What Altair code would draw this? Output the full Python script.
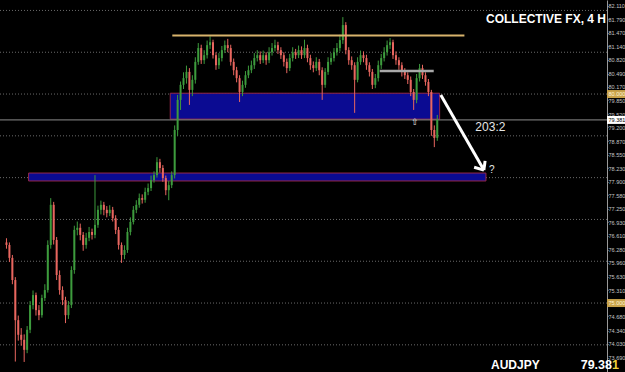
import altair as alt
import pandas as pd

# ---- candle data (AUDJPY, 4H) ----
closes = [76.39, 76.08, 75.55, 74.59, 74.24, 74.12, 73.88, 74.36, 74.95, 75.19,
          74.83, 74.71, 75.12, 75.31, 76.39, 77.35, 76.51, 75.67, 75.31, 75.07,
          74.71, 74.95, 75.79, 76.75, 76.80, 76.63, 76.39, 76.56, 76.70, 76.63,
          76.87, 77.23, 77.35, 77.23, 77.15, 77.23, 77.03, 76.75, 76.39, 76.15,
          76.27, 76.70, 76.94, 77.23, 77.35, 77.51, 77.47, 77.66, 77.75, 77.94,
          78.06, 78.37, 78.23, 77.99, 77.70, 77.82, 78.06, 79.14, 79.86, 80.22,
          80.38, 80.53, 80.10, 80.34, 80.77, 81.10, 80.81, 80.93, 81.17, 81.24,
          80.93, 80.69, 80.86, 81.05, 81.17, 81.10, 80.77, 80.57, 80.38, 80.05,
          80.22, 80.45, 80.57, 80.69, 80.86, 80.93, 80.81, 80.93, 80.81, 81.00,
          81.10, 81.17, 81.05, 80.93, 80.77, 80.62, 80.86, 81.00, 80.93, 81.05,
          80.93, 81.10, 80.86, 80.69, 80.62, 80.77, 80.57, 80.22, 80.53, 80.77,
          80.86, 81.00, 81.10, 81.29, 81.65, 81.05, 80.81, 80.69, 80.34, 80.77,
          80.93, 80.86, 80.69, 80.53, 80.22, 80.38, 80.69, 80.86, 81.00, 81.17,
          81.24, 80.93, 80.81, 80.69, 80.53, 80.45, 80.34, 80.05, 79.86, 80.38,
          80.62, 80.45, 80.29, 80.05, 79.14, 78.95, 79.381]
highs = [76.55, 76.45, 76.15, 75.62, 74.70, 74.40, 74.25, 74.45, 75.05, 75.30,
         75.25, 74.95, 75.20, 75.45, 76.50, 77.51, 77.42, 76.58, 75.78, 75.40,
         75.15, 75.05, 75.88, 76.85, 76.95, 76.90, 76.70, 76.68, 76.82, 76.78,
         78.06, 77.33, 77.45, 77.42, 77.32, 77.34, 77.30, 77.10, 76.82, 76.45,
         76.38, 76.80, 77.05, 77.32, 77.46, 77.62, 77.60, 77.76, 77.86, 78.05,
         78.15, 78.49, 78.45, 78.30, 78.05, 77.92, 78.15, 79.25, 79.98, 80.30,
         80.52, 80.68, 80.62, 80.45, 80.88, 81.22, 81.18, 81.05, 81.28, 81.38,
         81.30, 81.00, 80.98, 81.15, 81.28, 81.32, 81.18, 80.85, 80.65, 80.45,
         80.32, 80.55, 80.68, 80.80, 80.98, 81.05, 81.02, 81.04, 81.00, 81.12,
         81.22, 81.30, 81.25, 81.12, 81.00, 80.85, 80.96, 81.12, 81.08, 81.16,
         81.14, 81.30, 81.18, 80.94, 80.78, 80.88, 80.84, 80.64, 80.62, 80.88,
         80.98, 81.10, 81.22, 81.42, 81.84, 81.72, 81.12, 80.90, 80.76, 80.88,
         81.04, 81.02, 80.94, 80.76, 80.60, 80.48, 80.80, 80.96, 81.12, 81.28,
         81.34, 81.30, 81.02, 80.88, 80.76, 80.62, 80.52, 80.42, 80.12, 80.48,
         80.72, 80.70, 80.52, 80.36, 80.10, 79.25, 79.50]
lows = [76.30, 75.98, 75.45, 73.60, 74.10, 73.98, 73.59, 73.80, 74.28, 74.85,
        74.70, 74.59, 74.65, 75.05, 75.25, 76.30, 76.40, 75.55, 75.20, 74.95,
        74.52, 74.62, 74.88, 75.70, 76.62, 76.50, 76.25, 76.30, 76.48, 76.52,
        76.55, 76.80, 77.12, 77.10, 77.05, 77.08, 76.95, 76.65, 76.28, 75.96,
        76.05, 76.20, 76.62, 76.88, 77.15, 77.28, 77.38, 77.40, 77.58, 77.68,
        77.88, 78.00, 78.12, 77.90, 77.58, 77.46, 77.75, 77.98, 79.00, 79.62,
        80.12, 80.25, 79.74, 79.95, 80.25, 80.70, 80.72, 80.72, 80.85, 81.08,
        80.85, 80.58, 80.60, 80.78, 80.98, 81.00, 80.68, 80.45, 80.28, 79.81,
        79.95, 80.15, 80.38, 80.50, 80.60, 80.78, 80.72, 80.74, 80.70, 80.74,
        80.92, 81.02, 80.96, 80.84, 80.66, 80.50, 80.55, 80.78, 80.84, 80.86,
        80.84, 80.86, 80.76, 80.58, 80.52, 80.55, 80.45, 79.86, 80.15, 80.46,
        80.70, 80.78, 80.92, 81.02, 81.20, 80.95, 80.70, 80.58, 79.55, 80.28,
        80.70, 80.76, 80.58, 80.42, 80.12, 80.14, 80.30, 80.60, 80.78, 80.92,
        81.08, 80.84, 80.70, 80.58, 80.42, 80.36, 80.24, 79.95, 79.62, 79.78,
        80.30, 80.36, 80.20, 79.95, 79.00, 78.73, 78.88]
first_open = 76.45
opens = [first_open] + closes[:-1]

# ---- levels / drawings ----
grid_levels = [74, 75, 76, 77, 78, 79, 80, 81, 82]
current_price = 79.381
zone_x1 = [55.5, 7.5]
zone_x2 = [146.8, 162.5]
zone_y1 = [80.02, 78.11]
zone_y2 = [79.40, 77.92]
seg_x1 = [56.2, 126.5, 147.2, 161.8, 161.8]
seg_x2 = [155.2, 144.8, 161.8, 158.5, 162.2]
seg_y1 = [81.40, 80.55, 79.98, 78.18, 78.18]
seg_y2 = [81.40, 80.55, 78.18, 78.25, 78.40]
seg_kind = ["resistance", "minor", "arrow", "arrow", "arrow"]
note_text = ["203:2", "?", "⇧"]
note_x = [164.0, 164.5, 138.5]
note_y = [79.21, 78.18, 79.33]
note_size = [12, 10, 9]
axis_ticks = [82.110, 81.790, 81.470, 81.140, 80.820, 80.490, 80.170, 79.850,
              79.520, 79.200, 78.870, 78.550, 78.230, 77.900, 77.580, 77.250,
              76.930, 76.610, 76.280, 75.960, 75.630, 75.310, 74.680, 74.340,
              74.030, 73.690]
badge_values = [80.000, 75.000, 79.381]
badge_kind = ["level", "level", "price"]

df = pd.DataFrame({"i": list(range(len(closes))), "open": opens, "close": closes,
                   "high": highs, "low": lows})
df["dir"] = ["up" if c >= o else "down" for o, c in zip(opens, closes)]

xs = alt.Scale(domain=[-0.5, 201.83], nice=False, zero=False)
ys = alt.Scale(domain=[73.35, 82.25], nice=False, zero=False)
yaxis = alt.Axis(
    orient="right", values=axis_ticks, format=".3f", labelFontSize=5.5,
    labelFont="Liberation Sans", labelColor="#c4c4c4", domainColor="#9a9a9a",
    tickColor="#9a9a9a", tickSize=1, labelPadding=0, grid=False, title=None,
    labelOverlap=False, labelFlush=False)
col = alt.Color("dir:N", scale=alt.Scale(domain=["up", "down"],
                                         range=["#3d9b3d", "#e8665f"]), legend=None)


def Y(field):
    return alt.Y(field, scale=ys, axis=yaxis)


grid = alt.Chart(pd.DataFrame({"lv": grid_levels})).mark_rule(
    color="#6a6a6a", strokeDash=[1, 2], strokeWidth=1
).encode(y=Y("lv:Q"))

zones = alt.Chart(pd.DataFrame({"x1": zone_x1, "x2": zone_x2, "y1": zone_y1, "y2": zone_y2})).mark_rect(
    fill="#0b0b92", stroke="#962848", strokeWidth=1
).encode(x=alt.X("x1:Q", scale=xs, axis=None), x2="x2:Q", y=Y("y1:Q"), y2="y2:Q")

price_line = alt.Chart(pd.DataFrame({"p": [current_price]})).mark_rule(
    color="#8c8c8c", strokeWidth=1
).encode(y=Y("p:Q"))

wicks = alt.Chart(df).mark_rule(strokeWidth=1).encode(
    x=alt.X("i:Q", scale=xs, axis=None), y=Y("low:Q"), y2="high:Q", color=col)

bodies = alt.Chart(df).mark_bar(size=2).encode(
    x=alt.X("i:Q", scale=xs, axis=None), y=Y("open:Q"), y2="close:Q", color=col)

segs = alt.Chart(pd.DataFrame({"x1": seg_x1, "x2": seg_x2, "y1": seg_y1, "y2": seg_y2,
                               "k": seg_kind})).mark_rule().encode(
    x=alt.X("x1:Q", scale=xs, axis=None), x2="x2:Q", y=Y("y1:Q"), y2="y2:Q",
    color=alt.Color("k:N", scale=alt.Scale(domain=["resistance", "minor", "arrow"],
                                           range=["#d8b36c", "#a9a9a9", "#ffffff"]), legend=None),
    strokeWidth=alt.StrokeWidth("k:N", scale=alt.Scale(domain=["resistance", "minor", "arrow"],
                                                       range=[2, 3, 1]), legend=None))

notes = alt.Chart(pd.DataFrame({"t": note_text, "x": note_x, "y": note_y, "s": note_size})).mark_text(
    color="#e6e6e6", font="Liberation Sans", baseline="middle", align="center"
).encode(x=alt.X("x:Q", scale=xs, axis=None), y=Y("y:Q"),
         text="t:N", size=alt.Size("s:Q", scale=None, legend=None))

title = alt.Chart(pd.DataFrame({"t": ["COLLECTIVE FX, 4 H"]})).mark_text(
    color="#ffffff", font="Liberation Sans", fontWeight="bold", fontSize=12,
    align="left", baseline="alphabetic"
).encode(x=alt.value(486), y=alt.value(23), text="t:N")

sym = alt.Chart(pd.DataFrame({"t": ["AUDJPY"]})).mark_text(
    color="#ffffff", font="Liberation Sans", fontWeight="bold", fontSize=12,
    align="left", baseline="bottom"
).encode(x=alt.value(491), y=alt.value(372), text="t:N")

bid_main = alt.Chart(pd.DataFrame({"t": ["79.38"]})).mark_text(
    color="#ffffff", font="Liberation Sans", fontWeight="bold", fontSize=12.5,
    align="right", baseline="bottom"
).encode(x=alt.value(612), y=alt.value(372), text="t:N")

bid_last = alt.Chart(pd.DataFrame({"t": ["1"]})).mark_text(
    color="#f2d23a", font="Liberation Sans", fontWeight="bold", fontSize=12.5,
    align="left", baseline="bottom"
).encode(x=alt.value(612), y=alt.value(372), text="t:N")

bdf = pd.DataFrame({"v": badge_values, "k": badge_kind})
badges = alt.Chart(bdf).mark_tick(thickness=8, size=18, opacity=1).encode(
    x=alt.value(616), y=Y("v:Q"),
    color=alt.Color("k:N", scale=alt.Scale(domain=["level", "price"],
                                           range=["#c9a24a", "#ffffff"]), legend=None))
badge_txt = alt.Chart(bdf).mark_text(
    font="Liberation Sans", fontSize=5.5, align="left", baseline="middle"
).encode(x=alt.value(608.5), y=Y("v:Q"),
         text=alt.Text("v:Q", format=".3f"),
         color=alt.Color("k:N", scale=alt.Scale(domain=["level", "price"],
                                                range=["#fff6d8", "#000000"]), legend=None))

chart = alt.layer(
    grid, zones, price_line, wicks, bodies, segs, notes, title, sym, bid_main, bid_last,
    badges, badge_txt
).resolve_scale(color="independent", strokeWidth="independent").properties(
    width=607, height=372,
    autosize=alt.AutoSizeParams(type="none"),
    padding={"left": 0, "top": 0, "right": 18, "bottom": 0},
    background="#000000"
).configure_view(stroke=None, fill="#000000")

chart.save("out.html", embed_options={"renderer": "svg", "actions": False})
